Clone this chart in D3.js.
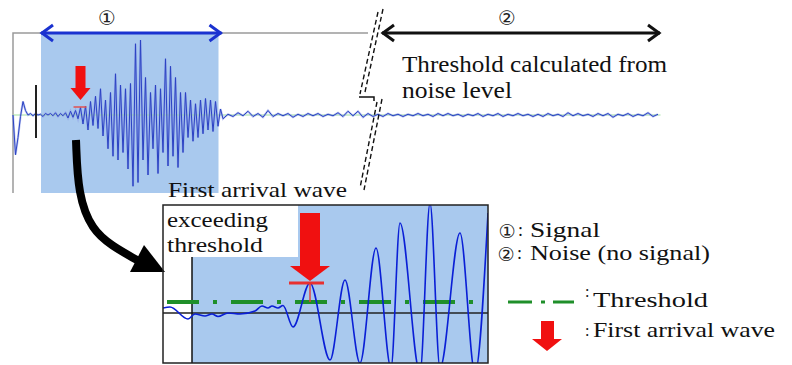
<!DOCTYPE html>
<html lang="en">
<head>
<meta charset="utf-8">
<title>First arrival wave detection</title>
<script src="https://d3js.org/d3.v7.min.js"></script>
<style>
  body { margin: 0; background: #fff; }
  svg { display: block; }
</style>
</head>
<body>
<div id="chart"></div>
<script>
// top trace: amplitude per sample (sample step = 1)
const topSamples = [
  0, -0.53, -0.3, -0.02, 0.18, 0.06, 0, 0.02, -0.01, 0.02,
  0, 0.01, -0.02, 0.02, 0, 0.02, -0.01, 0.03, -0.02, 0.02,
  -0.01, 0.03, -0.04, 0.05, -0.03, 0.06, -0.05, 0.1, -0.12, 0.12,
  -0.2, 0.18, -0.14, 0.25, -0.18, 0.35, -0.28, 0.2, -0.45, 0.3,
  -0.55, 0.55, -0.6, 0.4, -0.5, 0.35, -0.72, 0.42, -0.95, 0.95,
  -0.9, 1.0, -0.6, 0.5, -0.8, 0.3, -0.45, 0.4, -0.78, 0.35,
  -0.5, 0.75, -0.68, 0.65, -0.55, 0.5, -0.7, 0.3, -0.5, 0.3,
  -0.3, 0.2, -0.35, 0.15, -0.3, 0.2, -0.25, 0.22, -0.2, 0.2,
  -0.22, 0.18, -0.15, 0.08, -0.05
];
// top trace noise tail, starts at sample 86, step 2
const tailStart = 86;
const topTail = [
  0.01, -0.02, 0.03, -0.01, 0.05, -0.02, 0.02, -0.03, 0.06, -0.02,
  0.02, -0.01, 0.02, -0.03, 0.01, -0.02, 0.02, -0.01, 0.02, -0.02,
  0.01, -0.01, 0.03, -0.02, 0.05, -0.01, 0.05, -0.03, 0.02, -0.02,
  0.01, -0.02, 0.02, -0.01, 0.01, -0.02, 0.01, -0.01, 0.02, -0.01,
  0.01, -0.02, 0.02, -0.01, 0.02, -0.01, 0.01, -0.02, 0.01, -0.01,
  0.02, -0.02, 0.01, -0.01, 0.02, -0.02, 0.01, -0.01, 0.02, -0.01,
  0.01, -0.02, 0.01, -0.02, 0.02, -0.01, 0.01, -0.02, 0.03, -0.01,
  0.02, -0.01, 0.01, -0.02, 0.02, -0.01, 0.02, -0.03, 0.01, -0.01,
  0.02, -0.02, 0.01, -0.01, 0.03, -0.02, 0.01
];
// zoomed trace: [sample, amplitude] turning points
const zoomPeaks = [
  [0, 0.1], [7, 0.12], [25, -0.12], [32, -0.02], [42, -0.06], [49, -0.02],
  [55, -0.07], [65, 0.0], [77, -0.02], [92, 0.04], [99, 0.14], [105, 0.1],
  [109, 0.14], [115, 0.1], [120, 0.15], [130, -0.28], [147, 0.6], [167, -0.94],
  [182, 0.66], [197, -1.0], [213, 1.3], [228, -1.1], [237, 1.8], [257, -1.2],
  [267, 2.2], [277, -1.1], [297, 1.6], [312, -1.2], [325, 2.0]
];
const threshold = 0.22;
const signalWindow = [11.2, 82.2];   // samples, region ①
const noiseWindow = [147.6, 258.8];  // samples, region ②
const triggerSample = 9.2;
const topArrivalSample = 27;
const zoomArrivalSample = 147;
const zoomTriggerSample = 29;
const zoomLabelBox = 135;

const marks = ["\u2460", "\u2461"];
const noiseNote = ["Threshold calculated from", "noise level"];
const arrivalNote = ["First arrival wave", "exceeding", "threshold"];
const legendNames = ["Signal", "Noise (no signal)", "Threshold", "First arrival wave"];

const serif = "'Liberation Serif', 'Times New Roman', serif";
const W = 792, H = 365;
const svg = d3.select("#chart").append("svg").attr("width", W).attr("height", H)
  .attr("font-family", serif);

const xTop = d3.scaleLinear().domain([0, 259]).range([13, 660.5]);
const yTop = d3.scaleLinear().domain([-1, 1]).range([190, 40]);
const xBot = d3.scaleLinear().domain([0, 325]).range([163, 488]);
const yBot = d3.scaleLinear().domain([-1, 1]).range([363, 263]);

const blueFill = "#a9c9ee";
const red = "#f01010";
const green = "#1f8f2a";

function label(x, y, str, size, len) {
  const t = svg.append("text").attr("x", x).attr("y", y)
    .attr("font-family", serif).attr("font-size", size).attr("fill", "#111").text(str);
  if (len) t.attr("textLength", len).attr("lengthAdjust", "spacingAndGlyphs");
  return t;
}
function circled(x, y, str, size) {
  return svg.append("text").attr("x", x).attr("y", y).attr("text-anchor", "middle")
    .attr("font-family", "DejaVu Sans").attr("font-size", size).attr("fill", "#222").text(str);
}

// ---------- top panel ----------
svg.append("rect")
  .attr("x", xTop(signalWindow[0])).attr("y", 33)
  .attr("width", xTop(signalWindow[1]) - xTop(signalWindow[0])).attr("height", 160)
  .attr("fill", blueFill);

// gray frame
svg.append("path")
  .attr("d", `M${xTop(0)},193 V33 H368`)
  .attr("fill", "none").attr("stroke", "#9a9a9a").attr("stroke-width", 1.5);

// baseline
svg.append("line")
  .attr("x1", xTop(0)).attr("x2", xTop(259)).attr("y1", yTop(0)).attr("y2", yTop(0))
  .attr("stroke", "#9fe09f").attr("stroke-width", 1);

const topPts = topSamples.map((a, i) => [i, a])
  .concat(topTail.map((a, k) => [tailStart + 2 * k, a]));
const topLine = d3.line().x(d => xTop(d[0])).y(d => yTop(d[1]));
svg.append("path").datum(topPts)
  .attr("d", topLine).attr("fill", "none")
  .attr("stroke", "#8f9ee8").attr("stroke-width", 2.2).attr("opacity", 0.6);
svg.append("path").datum(topPts)
  .attr("d", topLine).attr("fill", "none")
  .attr("stroke", "#2b43c4").attr("stroke-width", 1);

// trigger marker
svg.append("line")
  .attr("x1", xTop(triggerSample)).attr("x2", xTop(triggerSample))
  .attr("y1", 85).attr("y2", 138)
  .attr("stroke", "#222").attr("stroke-width", 2);

// small red arrow
const ta = xTop(topArrivalSample);
svg.append("rect").attr("x", ta - 5).attr("y", 66).attr("width", 10).attr("height", 22).attr("fill", red);
svg.append("path").attr("d", `M${ta - 10},88 L${ta + 10},88 L${ta},100 Z`).attr("fill", red);
svg.append("line").attr("x1", ta - 7).attr("x2", ta + 6).attr("y1", 107).attr("y2", 107)
  .attr("stroke", "#e05050").attr("stroke-width", 1.5);

// region arrows
function dblArrow(x1, x2, y, color) {
  const g = svg.append("g").attr("stroke", color).attr("stroke-width", 3).attr("fill", "none");
  g.append("line").attr("x1", x1).attr("x2", x2).attr("y1", y).attr("y2", y);
  g.append("path").attr("d", `M${x1 + 12},${y - 8} L${x1 + 1},${y} L${x1 + 12},${y + 8}`);
  g.append("path").attr("d", `M${x2 - 12},${y - 8} L${x2 - 1},${y} L${x2 - 12},${y + 8}`);
}
dblArrow(xTop(signalWindow[0]), xTop(signalWindow[1]) + 3, 33, "#1a32d0");
dblArrow(xTop(noiseWindow[0]), xTop(noiseWindow[1]), 33, "#111");

circled(107, 25, marks[0], 20);
circled(507, 25, marks[1], 20);

// break symbol
const brk = svg.append("g").attr("fill", "none").attr("stroke", "#111")
  .attr("stroke-width", 1.4).attr("stroke-dasharray", "5,3");
brk.append("path").attr("d", "M383,9 L365,92");
brk.append("path").attr("d", "M378,12 L360,94");
brk.append("path").attr("d", "M382,99 L364,190");
brk.append("path").attr("d", "M377,102 L360,188");
svg.append("path").attr("d", "M359,97 H374 V101").attr("fill", "none")
  .attr("stroke", "#111").attr("stroke-width", 1.5);

label(402, 72, noiseNote[0], 24, 265);
label(402, 98, noiseNote[1], 24, 110);

// curved pointer
svg.append("path")
  .datum([[76, 140], [78, 195], [92, 230], [112, 246], [137, 260]])
  .attr("d", d3.line().curve(d3.curveBasis))
  .attr("fill", "none").attr("stroke", "#000").attr("stroke-width", 8);
svg.append("path").attr("d", "M130,272 L144,245 L165,272 Z").attr("fill", "#000");

// ---------- zoom panel ----------
const bx0 = xBot(0), bx1 = xBot(325);
svg.append("rect").attr("x", xBot(zoomTriggerSample)).attr("y", 205)
  .attr("width", bx1 - xBot(zoomTriggerSample)).attr("height", 158).attr("fill", blueFill);
svg.append("rect").attr("x", bx0).attr("y", 205)
  .attr("width", xBot(zoomLabelBox) - bx0).attr("height", 52).attr("fill", "#fff");

svg.append("clipPath").attr("id", "zclip").append("rect")
  .attr("x", bx0).attr("y", 205).attr("width", bx1 - bx0).attr("height", 158);

svg.append("line").attr("x1", bx0).attr("x2", bx1).attr("y1", yBot(0)).attr("y2", yBot(0))
  .attr("stroke", "#222").attr("stroke-width", 1.5);
svg.append("line").attr("x1", xBot(zoomTriggerSample)).attr("x2", xBot(zoomTriggerSample))
  .attr("y1", 257).attr("y2", 363).attr("stroke", "#111").attr("stroke-width", 1.5);

svg.append("line").attr("x1", bx0 + 4).attr("x2", bx1 - 3)
  .attr("y1", yBot(threshold)).attr("y2", yBot(threshold))
  .attr("stroke", green).attr("stroke-width", 4).attr("stroke-dasharray", "32,14,4,14");

svg.append("path").datum(zoomPeaks)
  .attr("clip-path", "url(#zclip)")
  .attr("d", d3.line().curve(d3.curveMonotoneX).x(d => xBot(d[0])).y(d => yBot(d[1])))
  .attr("fill", "none").attr("stroke", "#0a1fd6").attr("stroke-width", 1.6);

// big red arrow
const za = xBot(zoomArrivalSample);
svg.append("line").attr("x1", za).attr("x2", za).attr("y1", 283).attr("y2", yBot(threshold))
  .attr("stroke", "#e04040").attr("stroke-width", 1.5);
svg.append("line").attr("x1", za - 21).attr("x2", za + 14).attr("y1", 283).attr("y2", 283)
  .attr("stroke", "#e83030").attr("stroke-width", 3);
svg.append("rect").attr("x", za - 10).attr("y", 213).attr("width", 20).attr("height", 54).attr("fill", red);
svg.append("path").attr("d", `M${za - 20},266 L${za + 20},266 L${za},281 Z`).attr("fill", red);

// frame
svg.append("rect").attr("x", bx0).attr("y", 205).attr("width", bx1 - bx0).attr("height", 158)
  .attr("fill", "none").attr("stroke", "#222").attr("stroke-width", 1.5);

label(168, 197, arrivalNote[0], 21, 179);
label(167, 227, arrivalNote[1], 21, 101);
label(167, 252, arrivalNote[2], 21, 96);

// ---------- legend ----------
circled(507, 238, marks[0], 19);
label(518, 236, ":", 18);
label(530, 237, legendNames[0], 21, 70);
circled(506, 261, marks[1], 19);
label(517, 259, ":", 18);
label(530, 260, legendNames[1], 21, 180);

svg.append("line").attr("x1", 508).attr("x2", 574).attr("y1", 302).attr("y2", 302)
  .attr("stroke", green).attr("stroke-width", 3).attr("stroke-dasharray", "24,9,4,8");
label(585, 297, ":", 16);
label(593, 307, legendNames[2], 21, 115);

svg.append("rect").attr("x", 541).attr("y", 321).attr("width", 13).attr("height", 19).attr("fill", red);
svg.append("path").attr("d", "M532,339 L562,339 L547,351 Z").attr("fill", red);
label(585, 336, ":", 16);
label(593, 337, legendNames[3], 21, 182);
</script>
</body>
</html>
